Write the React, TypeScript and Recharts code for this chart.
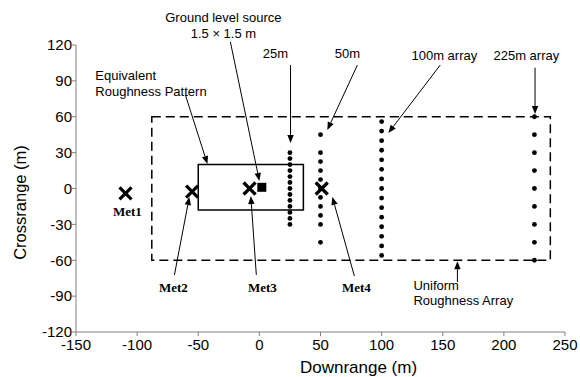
import {
  ScatterChart,
  Scatter,
  XAxis,
  YAxis,
  ReferenceArea,
  ReferenceLine,
  ReferenceDot,
  Label,
} from "recharts";

/* ------------------------------------------------------------------ */
/*  Data                                                               */
/* ------------------------------------------------------------------ */

const X_TICKS = [-150, -100, -50, 0, 50, 100, 150, 200, 250];
const Y_TICKS = [-120, -90, -60, -30, 0, 30, 60, 90, 120];

// sampler arrays: downrange position + crossrange positions of each sampler
const ARRAY_X = [25, 50, 100, 225];
const ARRAY_25_Y = [30, 25, 20, 15, 10, 5, 0, -5, -10, -15, -20, -25, -30];
const ARRAY_50_Y = [45, 30, 22.5, 15, 7.5, 0, -7.5, -15, -22.5, -30, -45];
const ARRAY_100_Y = [56, 48, 40, 32, 24, 16, 8, 0, -8, -16, -24, -32, -40, -48, -56];
const ARRAY_225_Y = [60, 45, 30, 15, 0, -15, -30, -45, -60];

// met towers
const MET_NAMES = ["Met1", "Met2", "Met3", "Met4"];
const MET_X = [-109.5, -55, -8, 51];
const MET_Y = [-4, -2.7, 0, 0];

// source
const SOURCE_X = [2];
const SOURCE_Y = [1];

// roughness areas: [x1, x2, y1, y2]
const UNIFORM_AREA = [-88, 238, -60, 60];
const EQUIV_AREA = [-50, 36, -18, 20];

/* ------------------------------------------------------------------ */
/*  Annotations (data units)                                           */
/* ------------------------------------------------------------------ */

const ARROWS: { from: [number, number]; to: [number, number] }[] = [
  { from: [-23.7, 122.5], to: [0, 6.3] },
  { from: [-60.5, 78.2], to: [-42.5, 20.5] },
  { from: [25.5, 103.3], to: [25.5, 38] },
  { from: [80.2, 103.3], to: [55.6, 48.9] },
  { from: [148, 103.3], to: [105.5, 46.4] },
  { from: [225.5, 101], to: [225.5, 62.3] },
  { from: [-69.5, -72.3], to: [-57.3, -7.1] },
  { from: [-2.5, -72.3], to: [-7, -6.3] },
  { from: [77.7, -73.2], to: [59.7, -7.1] },
  { from: [162, -78.2], to: [162, -60.8] },
];

const NOTES: { text: string; x: number; y: number; anchor: "start" | "middle" }[] = [
  { text: "Ground level source", x: -29.4, y: 143.4, anchor: "middle" },
  { text: "1.5 \u00d7 1.5 m", x: -29.4, y: 130, anchor: "middle" },
  { text: "25m", x: 13.1, y: 113.3, anchor: "middle" },
  { text: "50m", x: 72, y: 113.3, anchor: "middle" },
  { text: "100m array", x: 151.3, y: 111.6, anchor: "middle" },
  { text: "225m array", x: 218.4, y: 111.6, anchor: "middle" },
  { text: "Equivalent", x: -134.2, y: 94.9, anchor: "start" },
  { text: "Roughness Pattern", x: -134.2, y: 81.5, anchor: "start" },
  { text: "Uniform", x: 126, y: -80.7, anchor: "start" },
  { text: "Roughness Array", x: 126, y: -94, anchor: "start" },
];

const MET_LABEL_POS: [number, number][] = [
  [-108, -19.6],
  [-70.3, -83.2],
  [2.5, -83.2],
  [79.3, -83.2],
];

/* ------------------------------------------------------------------ */
/*  Shapes                                                             */
/* ------------------------------------------------------------------ */

const SANS = "Arial, 'Liberation Sans', sans-serif";
const SERIF = "'Times New Roman', 'Liberation Serif', serif";

function ArrowShape(props: any) {
  const { x1, y1, x2, y2 } = props;
  const ang = Math.atan2(y2 - y1, x2 - x1);
  const c = Math.cos(ang);
  const s = Math.sin(ang);
  const len = 8;
  const half = 3.2;
  const bx = x2 - len * c;
  const by = y2 - len * s;
  return (
    <g>
      <line x1={x1} y1={y1} x2={bx} y2={by} stroke="#000" strokeWidth={1} />
      <polygon
        points={`${x2},${y2} ${bx + half * s},${by - half * c} ${bx - half * s},${by + half * c}`}
        fill="#000"
      />
    </g>
  );
}

function CrossShape(props: any) {
  const { cx, cy } = props;
  const h = 6;
  return (
    <g stroke="#000" strokeWidth={3.2}>
      <line x1={cx - h} y1={cy - h} x2={cx + h} y2={cy + h} />
      <line x1={cx - h} y1={cy + h} x2={cx + h} y2={cy - h} />
    </g>
  );
}

function SquareShape(props: any) {
  const { cx, cy } = props;
  return <rect x={cx - 4.5} y={cy - 4.5} width={9} height={9} fill="#000" />;
}

function DotShape(props: any) {
  return <circle cx={props.cx} cy={props.cy} r={2.4} fill="#000" />;
}

function textShape(text: string, anchor: string, font: string, size: number, bold = false) {
  return (p: any) => (
    <text
      x={p.cx}
      y={p.cy}
      textAnchor={anchor}
      dominantBaseline="central"
      fontFamily={font}
      fontSize={size}
      fontWeight={bold ? "bold" : "normal"}
      fill="#000"
    >
      {text}
    </text>
  );
}

/* ------------------------------------------------------------------ */
/*  App                                                                */
/* ------------------------------------------------------------------ */

export default function App() {
  const arrays = [ARRAY_25_Y, ARRAY_50_Y, ARRAY_100_Y, ARRAY_225_Y].map((ys, i) =>
    ys.map((y) => ({ x: ARRAY_X[i], y }))
  );
  const mets = MET_X.map((x, i) => ({ x, y: MET_Y[i] }));
  const source = SOURCE_X.map((x, i) => ({ x, y: SOURCE_Y[i] }));

  const axisStroke = "#808080";
  const tick = { fill: "#000", fontSize: 15, fontFamily: SANS };

  return (
    <div style={{ position: "absolute", left: 0, top: 0, background: "#fff" }}>
      <ScatterChart
        width={580}
        height={377}
        margin={{ top: 45, right: 15, bottom: 0, left: 16 }}
      >
        <XAxis
          type="number"
          dataKey="x"
          domain={[-150, 250]}
          ticks={X_TICKS}
          height={45}
          stroke={axisStroke}
          tickSize={4}
          tickMargin={3}
          tick={tick}
          interval={0}
        >
          <Label
            content={(p: any) => {
              const vb = p.viewBox || { x: 76, y: 332, width: 489 };
              return (
                <text
                  x={vb.x + vb.width / 2 + 38}
                  y={vb.y + 35}
                  textAnchor="middle"
                  dominantBaseline="central"
                  fontFamily={SANS}
                  fontSize={17}
                  fill="#000"
                >
                  Downrange (m)
                </text>
              );
            }}
          />
        </XAxis>
        <YAxis
          type="number"
          dataKey="y"
          domain={[-120, 120]}
          ticks={Y_TICKS}
          width={60}
          stroke={axisStroke}
          tickSize={4}
          tickMargin={0}
          tick={tick}
          interval={0}
        >
          <Label
            content={(p: any) => {
              const vb = p.viewBox || { x: 16, y: 45, width: 60, height: 287 };
              const cx = vb.x + vb.width - 56;
              const cy = vb.y + vb.height / 2 + 14;
              return (
                <text
                  x={cx}
                  y={cy}
                  transform={`rotate(-90 ${cx} ${cy})`}
                  textAnchor="middle"
                  dominantBaseline="central"
                  fontFamily={SANS}
                  fontSize={16.5}
                  fill="#000"
                >
                  Crossrange (m)
                </text>
              );
            }}
          />
        </YAxis>

        <ReferenceArea
          x1={UNIFORM_AREA[0]}
          x2={UNIFORM_AREA[1]}
          y1={UNIFORM_AREA[2]}
          y2={UNIFORM_AREA[3]}
          fill="none"
          fillOpacity={0}
          stroke="#000"
          strokeWidth={1.5}
          strokeDasharray="9 5"
          ifOverflow="visible"
        />
        <ReferenceArea
          x1={EQUIV_AREA[0]}
          x2={EQUIV_AREA[1]}
          y1={EQUIV_AREA[2]}
          y2={EQUIV_AREA[3]}
          fill="none"
          fillOpacity={0}
          stroke="#000"
          strokeWidth={1.5}
          ifOverflow="visible"
        />

        {arrays.map((d, i) => (
          <Scatter
            key={`arr${i}`}
            data={d}
            shape={DotShape}
            isAnimationActive={false}
          />
        ))}
        <Scatter data={mets} shape={CrossShape} isAnimationActive={false} />
        <Scatter data={source} shape={SquareShape} isAnimationActive={false} />

        {ARROWS.map((a, i) => (
          <ReferenceLine
            key={`ar${i}`}
            segment={[
              { x: a.from[0], y: a.from[1] },
              { x: a.to[0], y: a.to[1] },
            ]}
            ifOverflow="visible"
            shape={ArrowShape}
          />
        ))}

        {NOTES.map((n, i) => (
          <ReferenceDot
            key={`n${i}`}
            x={n.x}
            y={n.y}
            r={0}
            ifOverflow="visible"
            shape={textShape(n.text, n.anchor, SANS, 13)}
          />
        ))}
        {MET_NAMES.map((name, i) => (
          <ReferenceDot
            key={`m${i}`}
            x={MET_LABEL_POS[i][0]}
            y={MET_LABEL_POS[i][1]}
            r={0}
            ifOverflow="visible"
            shape={textShape(name, "middle", SERIF, 13, true)}
          />
        ))}
      </ScatterChart>
    </div>
  );
}
